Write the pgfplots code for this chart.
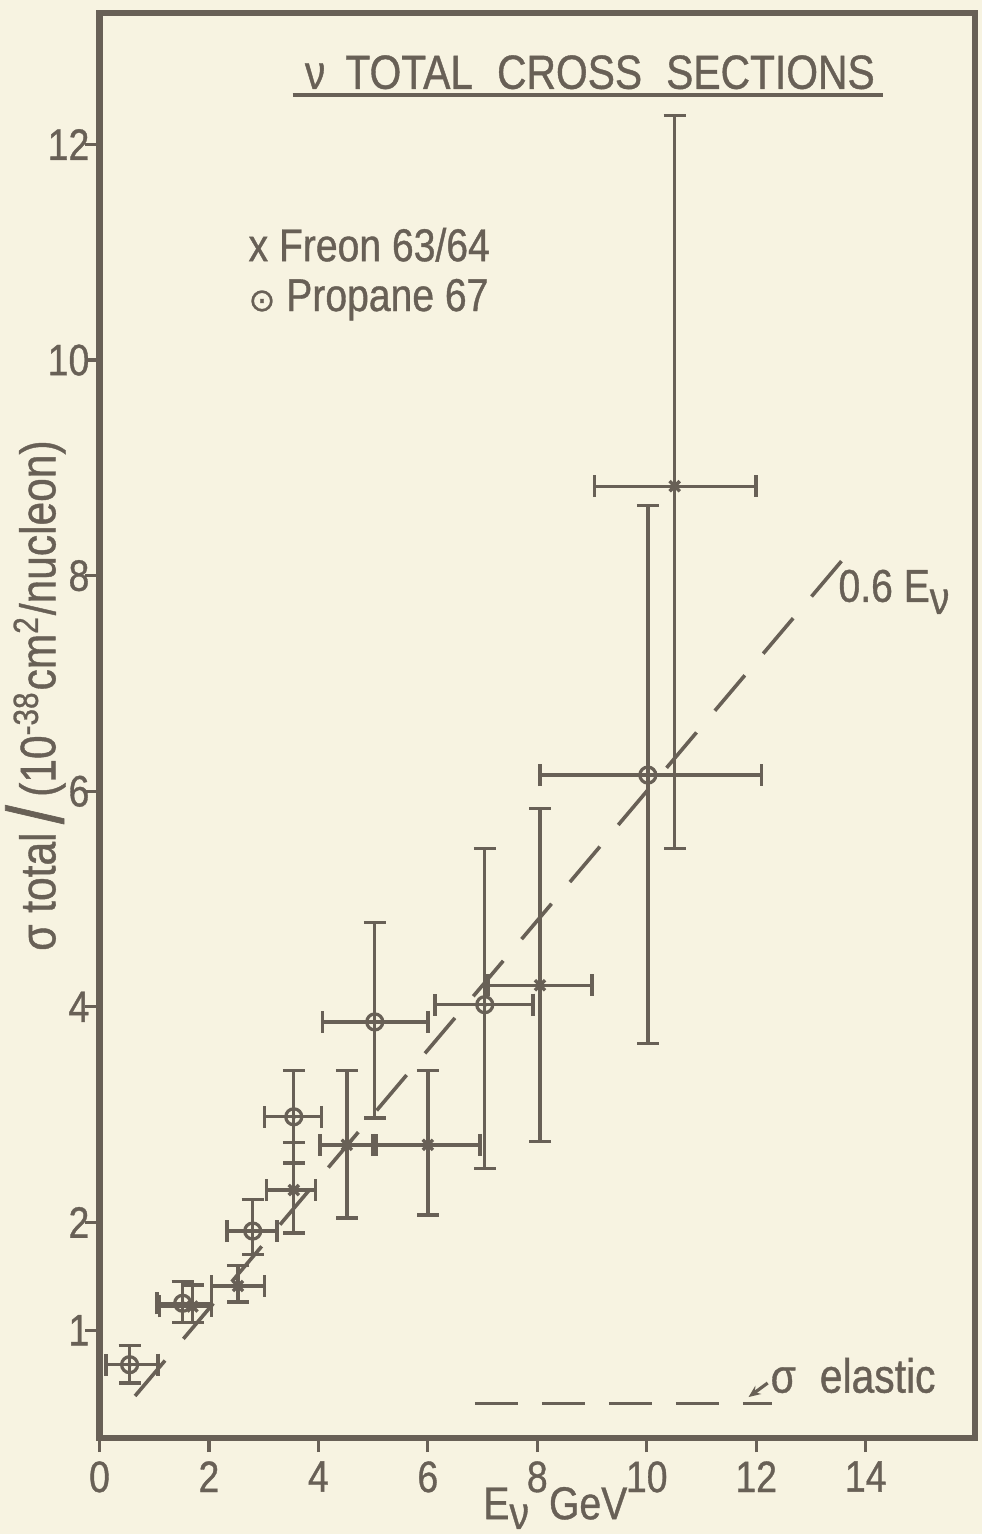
\documentclass[border=0pt]{standalone}
\usepackage{fontspec}
\setmainfont{Liberation Sans}[FakeStretch=0.85, FakeBold=0.8]
\newfontfamily\djv{DejaVu Sans}[FakeBold=0.8]
\usepackage{pgfplots}
\pgfplotsset{compat=1.18}
\usetikzlibrary{arrows.meta}
\definecolor{ink}{RGB}{104,96,86}
\definecolor{paper}{RGB}{247,243,225}

\pgfdeclareplotmark{odot}{%
  \pgfpathcircle{\pgfpointorigin}{\pgfplotmarksize}\pgfusepathqstroke
  \pgfpathcircle{\pgfpointorigin}{0.3\pgfplotmarksize}\pgfusepathqfill}

\pgfplotstableread{
x     y     xm    xp    ym    yp
0.55  0.68  0.43  0.52  0.17  0.18
1.52  1.25  0.47  0.53  0.18  0.20
2.80  1.92  0.47  0.44  0.22  0.29
3.55  2.98  0.53  0.51  0.43  0.43
5.03  3.86  0.95  0.97  0.89  0.92
7.04  4.02  0.91  0.88  1.52  1.45
10.02 6.15  1.97  2.08  2.49  2.50
}\propane

\pgfplotstableread{
x     y     xm    xp    ym    yp
1.70  1.22  0.60  0.35  0.15  0.20
2.53  1.41  0.48  0.49  0.15  0.19
3.55  2.30  0.50  0.40  0.40  0.44
4.52  2.72  0.49  0.48  0.68  0.69
6.00  2.72  0.95  0.95  0.65  0.69
8.05  4.20  0.95  0.95  1.45  1.64
10.51 8.83  1.46  1.49  3.36  3.44
}\freon

\begin{document}
\begin{tikzpicture}
\fill[paper] (0,0) rectangle (245.5pt,383.5pt);
\useasboundingbox (0,0) rectangle (245.5pt,383.5pt);
\begin{axis}[
  at={(24.875pt,24pt)}, anchor=south west,
  width=218.9pt, height=356.25pt, scale only axis,
  xmin=0, xmax=16, ymin=0, ymax=13.22,
  clip=false,
  axis line style={ink, line width=1.6pt},
  xtick={0,2,4,6,8,10,12,14},
  ytick={1,2,4,6,8,10,12},
  xtick pos=bottom, ytick pos=left,
  tick align=outside,
  major tick length=3.5pt,
  tick style={ink, line width=0.8pt},
  /pgf/number format/assume math mode=true,
  ticklabel style={ink, font=\fontsize{11}{12}\selectfont},
  xticklabel style={yshift=1.2pt},
  yticklabel style={xshift=4.5pt},
  error bars/error bar style={ink, line width=0.85pt},
  error bars/error mark options={ink, line width=0.85pt, mark size=2.75pt, rotate=90},
]
% 0.6 E line
\addplot[ink, line width=0.9pt, dash pattern=on 11.6pt off 7.1pt] coordinates {(0.65,0.39) (13.65,8.19)};
% elastic line
\addplot[ink, line width=0.9pt, dash pattern=on 10.75pt off 6pt] coordinates {(6.86,0.32) (12.28,0.32)};

\addplot[ink, only marks, mark=odot, mark size=2pt, mark options={line width=0.8pt, fill=ink},
  error bars/.cd, x dir=both, x explicit, y dir=both, y explicit]
  table[x=x, y=y, x error plus=xp, x error minus=xm, y error plus=yp, y error minus=ym] {\propane};
\addplot[ink, only marks, mark=x, mark size=1.8pt, mark options={line width=0.85pt},
  error bars/.cd, x dir=both, x explicit, y dir=both, y explicit]
  table[x=x, y=y, x error plus=xp, x error minus=xm, y error plus=yp, y error minus=ym] {\freon};

% title
\node[ink, font=\fontsize{12}{13}\selectfont] at (axis cs:8.96,12.67)
  {ν\hspace{5pt}TOTAL\hspace{6pt}CROSS\hspace{6pt}SECTIONS};
\draw[ink, line width=1pt] (axis cs:3.53,12.46) -- (axis cs:14.31,12.46);

% legend
\node[ink, anchor=west, inner sep=0pt, font=\fontsize{11.5}{12}\selectfont] at (axis cs:2.71,11.07) {x Freon 63/64};
\node[ink, anchor=west, inner sep=0pt, font=\fontsize{11.5}{12}\selectfont] at (axis cs:2.71,10.56) {{\djv\fontsize{8}{8}\selectfont ⊙} Propane 67};

% 0.6 E label
\node[ink, anchor=west, inner sep=0pt, font=\fontsize{11.5}{12}\selectfont] at (axis cs:13.49,7.85)
  {0.6 E\raisebox{-0.5ex}{ν}};

% elastic label
\draw[ink, line width=0.8pt, -{Stealth[length=3pt,width=2.5pt]}] (axis cs:12.21,0.51) -- (axis cs:11.86,0.38);
\node[ink, anchor=west, inner sep=0pt, font=\fontsize{12}{12}\selectfont] at (axis cs:12.25,0.58) {σ\hspace{6pt}elastic};

% x label
\node[ink, font=\fontsize{11.5}{12}\selectfont] at ([yshift=-17.5pt]axis cs:8.33,0)
  {E\raisebox{-0.4ex}{ν}\hspace{5pt}GeV};

% y label
\node[ink, rotate=90, font=\fontsize{12.5}{13}\selectfont] at ([xshift=-16pt]rel axis cs:0,0.521)
  {σ total\,\raisebox{-0.3ex}{\fontsize{20}{20}\selectfont /}\,(10\textsuperscript{-38}cm\textsuperscript{2}/nucleon)};
\end{axis}
\end{tikzpicture}
\end{document}
